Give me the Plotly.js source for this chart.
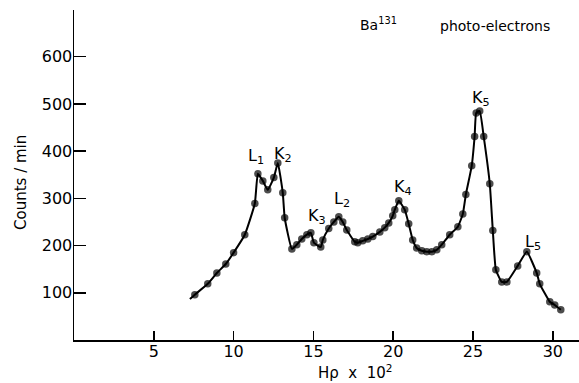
<!DOCTYPE html>
<html>
<head>
<meta charset="utf-8">
<script src="https://cdn.plot.ly/plotly-3.0.1.min.js"></script>
<style>html,body{margin:0;padding:0;background:#fff;}#chart{width:579px;height:383px;}</style>
</head>
<body>
<div id="chart"></div>
<script>
// H-rho (x 10^2) values
const hrho = [7.26, 7.57, 8.38, 8.95, 9.51, 10.0, 10.7, 11.33, 11.52, 11.83, 12.14, 12.52, 12.77,
  13.08, 13.2, 13.65, 13.96, 14.27, 14.59, 14.84, 15.03, 15.46, 15.59, 15.96, 16.28, 16.59, 16.84,
  17.09, 17.59, 17.78, 18.09, 18.41, 18.72, 19.16, 19.47, 19.72, 19.97, 20.1, 20.35, 20.72, 20.97,
  21.22, 21.47, 21.79, 22.1, 22.42, 22.73, 23.04, 23.54, 24.05, 24.36, 24.55, 24.92, 25.1, 25.2,
  25.42, 25.67, 26.05, 26.24, 26.43, 26.8, 27.12, 27.8, 28.37, 28.99, 29.18, 29.81, 30.12, 30.5];
// Counts per minute
const counts = [87, 96, 119, 142, 161, 185, 223, 289, 352, 337, 318, 344, 375,
  312, 259, 193, 202, 214, 223, 227, 206, 197, 212, 236, 250, 261, 250,
  233, 208, 206, 210, 214, 219, 229, 238, 248, 263, 276, 295, 276, 246,
  212, 195, 189, 187, 187, 191, 202, 223, 240, 267, 308, 369, 431, 481,
  485, 431, 331, 232, 149, 123, 123, 157, 187, 142, 119, 81, 74, 64];
const xTicks = [5, 10, 15, 20, 25, 30];
const yTicks = [100, 200, 300, 400, 500, 600];
const peakLabels = ['L<sub>1</sub>', 'K<sub>2</sub>', 'K<sub>3</sub>', 'L<sub>2</sub>', 'K<sub>4</sub>', 'K<sub>5</sub>', 'L<sub>5</sub>'];

const FONT = 'DejaVu Sans, Liberation Sans, sans-serif';
const sizes = hrho.map((_, i) => i === 0 ? 0 : 7.5);

// label pixel positions -> paper coords
const L = 74, T = 10, W = 505, H = 330;
const px = x => (x - L) / W, py = y => (T + H - y) / H;
const labelPos = [[256, 156], [283, 154], [317, 216], [342, 199], [403, 188], [481, 99], [533, 242]];

function ann(text, x, y, size, extra) {
  return Object.assign({text: text, xref: 'paper', yref: 'paper', x: px(x), y: py(y),
    xanchor: 'center', yanchor: 'middle', showarrow: false,
    font: {family: FONT, size: size, color: '#000'}}, extra || {});
}
const annotations = peakLabels.map((t, i) => ann(t, labelPos[i][0], labelPos[i][1], 16));
annotations.push(ann('Ba<sup>131</sup>', 378, 24, 14));
annotations.push(ann('photo-electrons', 495, 26, 14));
annotations.push(ann('Counts / min', 21, 183, 15, {textangle: -90}));
annotations.push(ann('Hρ  x  10<sup>2</sup>', 355, 372, 15));

Plotly.newPlot('chart', [{
  x: hrho, y: counts, type: 'scatter', mode: 'lines+markers',
  line: {color: '#000', width: 2, shape: 'spline', smoothing: 0.4},
  marker: {color: '#000', size: sizes, line: {width: 0}},
  hoverinfo: 'skip'
}], {
  width: 579, height: 383,
  margin: {l: L, r: 0, t: T, b: 383 - T - H, pad: 0},
  paper_bgcolor: '#fff', plot_bgcolor: '#fff',
  showlegend: false,
  xaxis: {range: [0, 31.64], tickvals: xTicks, ticktext: xTicks.map(String), ticks: 'inside', ticklen: 9,
    tickwidth: 1.5, tickcolor: '#000', showline: true, linecolor: '#000', linewidth: 1.5,
    showgrid: false, zeroline: false, ticklabelstandoff: -4,
    tickfont: {family: FONT, size: 16, color: '#000'}},
  yaxis: {range: [0, 699], tickvals: yTicks, ticktext: yTicks.map(String), ticks: 'inside', ticklen: 12,
    tickwidth: 1.5, tickcolor: '#000', showline: true, linecolor: '#000', linewidth: 1.5,
    showgrid: false, zeroline: false, ticklabelstandoff: -3,
    tickfont: {family: FONT, size: 16, color: '#000'}},
  annotations: annotations
}, {staticPlot: true});
</script>
</body>
</html>
